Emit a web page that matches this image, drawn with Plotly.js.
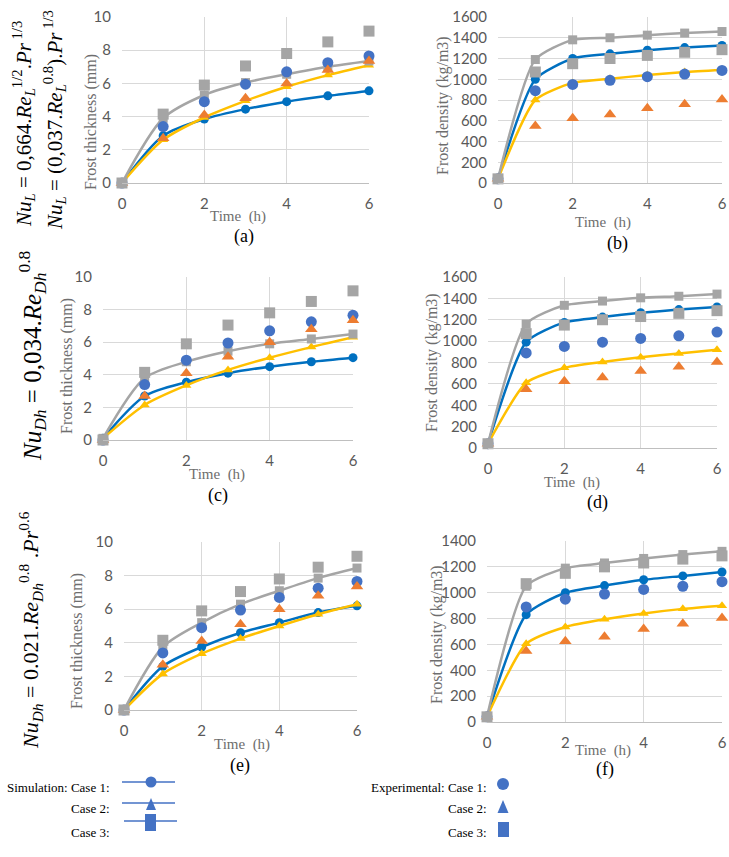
<!DOCTYPE html>
<html>
<head>
<meta charset="utf-8">
<script src="https://cdn.plot.ly/plotly-3.0.1.min.js"></script>
<style>
  html, body { margin: 0; padding: 0; background: #fff; }
  #chart { width: 729px; height: 857px; }
</style>
</head>
<body>
<div id="chart"></div>
<script>
// Frost growth over time: thickness and density, three cases, three correlations
const hours = [0, 1, 2, 3, 4, 5, 6];

// Experimental measurements (same in every panel)
const expThickCase1 = [0, 3.4, 4.9, 5.95, 6.7, 7.25, 7.65];
const expThickCase2 = [0, 2.7, 4.1, 5.1, 6.0, 6.8, 7.35];
const expThickCase3 = [0, 4.15, 5.9, 7.05, 7.8, 8.5, 9.15];
const expDensCase1 = [40, 890, 950, 990, 1025, 1050, 1085];
const expDensCase2 = [40, 550, 625, 660, 720, 760, 805];
const expDensCase3 = [40, 1070, 1150, 1200, 1230, 1260, 1285];

// Simulation, flat-plate correlation (a, b)
const simThickA1 = [0, 2.85, 3.85, 4.45, 4.9, 5.25, 5.55];
const simThickA2 = [0, 2.6, 3.95, 4.95, 5.8, 6.5, 7.1];
const simThickA3 = [0, 3.9, 5.3, 6.05, 6.55, 7.0, 7.35];
const simDensB1 = [40, 1000, 1200, 1245, 1280, 1305, 1325];
const simDensB2 = [40, 800, 965, 1005, 1040, 1070, 1090];
const simDensB3 = [40, 1190, 1380, 1400, 1425, 1445, 1460];

// Simulation, Nu = 0.034 Re^0.8 (c, d)
const simThickC1 = [0.1, 2.7, 3.55, 4.1, 4.5, 4.8, 5.05];
const simThickC2 = [0.1, 2.15, 3.35, 4.3, 5.05, 5.7, 6.3];
const simThickC3 = [0.1, 3.8, 4.8, 5.45, 5.9, 6.2, 6.5];
const simDensD1 = [40, 990, 1175, 1225, 1265, 1295, 1320];
const simDensD2 = [40, 610, 750, 805, 850, 885, 920];
const simDensD3 = [40, 1160, 1335, 1375, 1405, 1420, 1440];

// Simulation, Dittus-Boelter (e, f)
const simThickE1 = [0, 2.6, 3.75, 4.6, 5.2, 5.8, 6.2];
const simThickE2 = [0, 2.15, 3.35, 4.25, 5.0, 5.7, 6.3];
const simThickE3 = [0, 3.75, 5.2, 6.3, 7.1, 7.85, 8.45];
const simDensF1 = [40, 830, 1000, 1055, 1100, 1130, 1160];
const simDensF2 = [40, 605, 735, 795, 840, 875, 900];
const simDensF3 = [40, 1050, 1190, 1230, 1265, 1295, 1320];

const W = 729, H = 857;
const px = x => x / W;
const py = y => 1 - y / H;

const simColors = ['#0070C0', '#FFC000', '#A5A5A5'];
const expColors = ['#4472C4', '#ED7D31', '#A5A5A5'];
const symbols = ['circle', 'triangle-up', 'square'];

function panelTraces(sim, exp, xa, ya, smooth) {
  const out = [];
  sim.forEach((ys, i) => out.push({
    x: hours, y: ys, xaxis: xa, yaxis: ya, type: 'scatter', mode: 'lines+markers',
    line: { color: simColors[i], width: 2.5, shape: 'spline', smoothing: smooth },
    marker: { symbol: symbols[i], color: simColors[i], size: 9 },
    cliponaxis: false, showlegend: false, hoverinfo: 'skip'
  }));
  exp.forEach((ys, i) => out.push({
    x: hours, y: ys, xaxis: xa, yaxis: ya, type: 'scatter', mode: 'markers',
    marker: { symbol: symbols[i], color: expColors[i], size: 11 },
    cliponaxis: false, showlegend: false, hoverinfo: 'skip'
  }));
  return out;
}

const expThick = [expThickCase1, expThickCase2, expThickCase3];
const expDens = [expDensCase1, expDensCase2, expDensCase3];

const data = [].concat(
  panelTraces([simThickA1, simThickA2, simThickA3], expThick, 'x', 'y', 0.8),
  panelTraces([simDensB1, simDensB2, simDensB3], expDens, 'x2', 'y2', 0.6),
  panelTraces([simThickC1, simThickC2, simThickC3], expThick, 'x3', 'y3', 0.8),
  panelTraces([simDensD1, simDensD2, simDensD3], expDens, 'x4', 'y4', 0.6),
  panelTraces([simThickE1, simThickE2, simThickE3], expThick, 'x5', 'y5', 0.8),
  panelTraces([simDensF1, simDensF2, simDensF3], expDens, 'x6', 'y6', 0.6)
);

const tickFont = { family: 'Lato, "Liberation Sans", sans-serif', size: 15, color: '#595959' };

function xAxis(box, anchor) {
  return {
    domain: [px(box[0]), px(box[1])], anchor: anchor, range: [0, 6], dtick: 2,
    showgrid: true, gridcolor: '#D9D9D9', gridwidth: 1, zeroline: false,
    showline: true, linecolor: '#BFBFBF', linewidth: 1,
    ticks: 'outside', ticklen: 7, tickcolor: 'rgba(0,0,0,0)',
    tickfont: tickFont, fixedrange: true
  };
}
function yAxis(box, anchor, max, step) {
  return {
    domain: [py(box[3]), py(box[2])], anchor: anchor, range: [0, max], dtick: step,
    showgrid: true, gridcolor: '#D9D9D9', gridwidth: 1, zeroline: false,
    showline: false, ticks: 'outside', ticklen: 7, tickcolor: 'rgba(0,0,0,0)',
    tickfont: tickFont, fixedrange: true
  };
}

// plot boxes in pixels: [left, right, top, bottom]
const boxA = [122, 369, 17, 183];
const boxB = [498, 722, 17, 183];
const boxC = [103, 353, 277, 440];
const boxD = [488, 717, 277, 448];
const boxE = [124, 357, 542, 710];
const boxF = [487, 722, 541, 722];

const serif = '"Liberation Serif", "Times New Roman", serif';
const titleGray = '#6E6E6E';

function label(text, x, y, size, color, angle) {
  return {
    text: text, xref: 'paper', yref: 'paper', x: px(x), y: py(y),
    xanchor: 'center', yanchor: 'middle', showarrow: false, textangle: angle || 0,
    font: { family: serif, size: size, color: color }
  };
}
function keyText(text, x, y, anchor) {
  return {
    text: text, xref: 'paper', yref: 'paper', x: px(x), y: py(y),
    xanchor: anchor, yanchor: 'middle', showarrow: false,
    font: { family: serif, size: 13, color: '#000' }
  };
}

const annotations = [
  // axis titles and panel letters
  label('Frost thickness (mm)', 91, 122, 16, titleGray, -90),
  label('Time  (h)', 238, 216, 15, titleGray),
  label('(a)', 244, 237, 18, '#000'),
  label('Frost density (kg/m3)', 443, 106, 16, titleGray, -90),
  label('Time  (h)', 603, 222, 15, titleGray),
  label('(b)', 617, 244, 18, '#000'),
  label('Frost thickness (mm)', 67, 366, 16, titleGray, -90),
  label('Time  (h)', 217, 474, 15, titleGray),
  label('(c)', 218, 495, 18, '#000'),
  label('Frost density (kg/m3)', 432, 363, 16, titleGray, -90),
  label('Time  (h)', 572, 482, 15, titleGray),
  label('(d)', 597, 502, 18, '#000'),
  label('Frost thickness (mm)', 77, 641, 16, titleGray, -90),
  label('Time  (h)', 242, 744, 15, titleGray),
  label('(e)', 240, 765, 18, '#000'),
  label('Frost density (kg/m3)', 437, 635, 16, titleGray, -90),
  label('Time  (h)', 603, 750, 15, titleGray),
  label('(f)', 605, 769, 18, '#000'),
  // correlations
  label('<i>Nu<sub>L</sub></i> = 0,664.<i>Re<sub>L</sub></i><sup>1/2</sup>.<i>Pr</i><sup> 1/3</sup>', 24, 124, 21, '#000', -90),
  label('<i>Nu<sub>L</sub></i> = (0,037.<i>Re<sub>L</sub></i><sup>0.8</sup>).<i>Pr</i><sup> 1/3</sup>', 54, 120, 21, '#000', -90),
  label('<i>Nu<sub>Dh</sub></i> = 0,034.<i>Re<sub>Dh</sub></i><sup>0.8</sup>', 32, 356, 25, '#000', -90),
  label('<i>Nu<sub>Dh</sub></i> = 0.021.<i>Re<sub>Dh</sub></i><sup>0.8</sup> .<i>Pr</i><sup>0.6</sup>', 30, 630, 22, '#000', -90),
  // key
  keyText('Simulation: Case 1:', 112, 787, 'right'),
  keyText('Case 2:', 112, 808, 'right'),
  keyText('Case 3:', 112, 832, 'right'),
  keyText('Experimental: Case 1:', 489, 787, 'right'),
  keyText('Case 2:', 489, 808, 'right'),
  keyText('Case 3:', 489, 832, 'right')
];

const keyBlue = '#4472C4';
function keyLine(x0, x1, y) {
  return { type: 'line', xref: 'paper', yref: 'paper', x0: px(x0), x1: px(x1), y0: py(y), y1: py(y), line: { color: keyBlue, width: 1.5 } };
}
function keyCircle(cx, cy, r) {
  return { type: 'circle', xref: 'paper', yref: 'paper', x0: px(cx - r), x1: px(cx + r), y0: py(cy + r), y1: py(cy - r), fillcolor: keyBlue, line: { width: 0 } };
}
function keyRect(x0, x1, y0, y1) {
  return { type: 'rect', xref: 'paper', yref: 'paper', x0: px(x0), x1: px(x1), y0: py(y1), y1: py(y0), fillcolor: keyBlue, line: { width: 0 } };
}
function keyTri(cx, top, bottom, half) {
  return { type: 'path', xref: 'paper', yref: 'paper',
    path: `M ${px(cx - half)} ${py(bottom)} L ${px(cx + half)} ${py(bottom)} L ${px(cx)} ${py(top)} Z`,
    fillcolor: keyBlue, line: { width: 0 } };
}

const shapes = [
  keyLine(122, 175, 782), keyCircle(151, 782, 5.5),
  keyLine(122, 175, 803), keyTri(151, 798, 810, 5),
  keyLine(124, 177, 821), keyRect(145, 156, 814, 831),
  keyCircle(503, 784, 6),
  keyTri(503, 800, 813, 5.5),
  keyRect(498, 509, 822, 837)
];

const layout = {
  width: W, height: H,
  margin: { l: 0, r: 0, t: 0, b: 0 },
  paper_bgcolor: '#fff', plot_bgcolor: '#fff',
  showlegend: false,
  xaxis: xAxis(boxA, 'y'), yaxis: yAxis(boxA, 'x', 10, 2),
  xaxis2: xAxis(boxB, 'y2'), yaxis2: yAxis(boxB, 'x2', 1600, 200),
  xaxis3: xAxis(boxC, 'y3'), yaxis3: yAxis(boxC, 'x3', 10, 2),
  xaxis4: xAxis(boxD, 'y4'), yaxis4: yAxis(boxD, 'x4', 1600, 200),
  xaxis5: xAxis(boxE, 'y5'), yaxis5: yAxis(boxE, 'x5', 10, 2),
  xaxis6: xAxis(boxF, 'y6'), yaxis6: yAxis(boxF, 'x6', 1400, 200),
  annotations: annotations,
  shapes: shapes
};

Plotly.newPlot('chart', data, layout, { displayModeBar: false, staticPlot: true });
</script>
</body>
</html>
